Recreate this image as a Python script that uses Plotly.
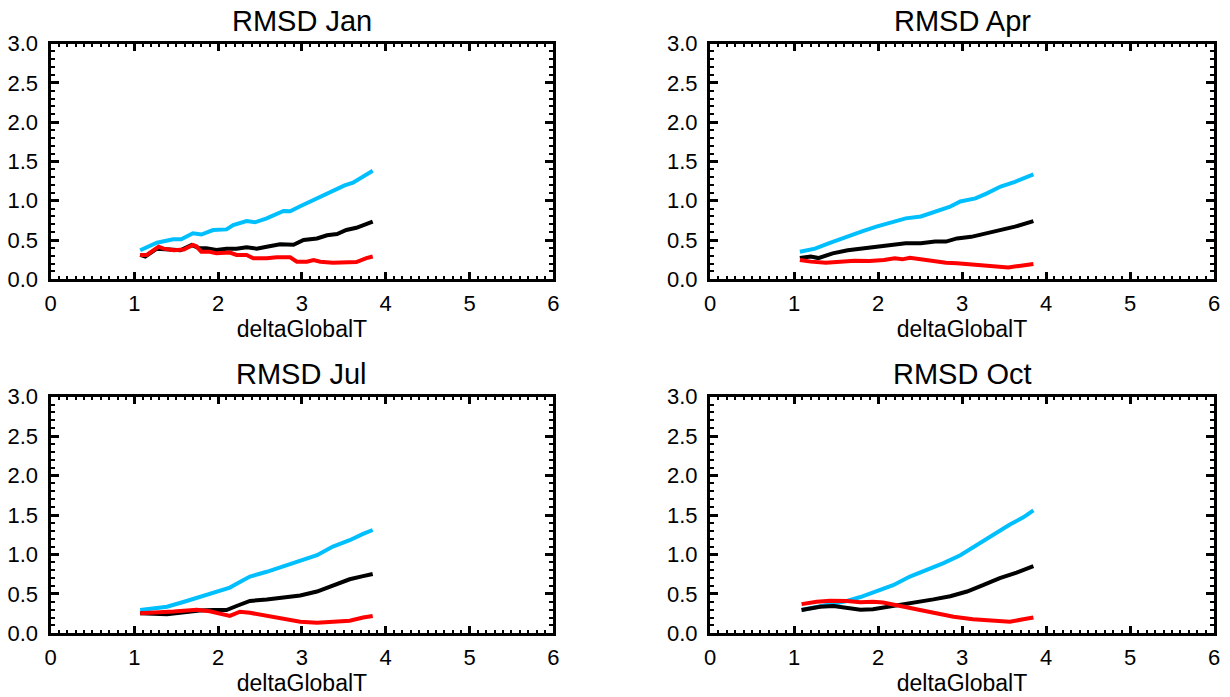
import plotly.graph_objects as go

# ---------------- data ----------------
titles = ["RMSD Jan", "RMSD Apr", "RMSD Jul", "RMSD Oct"]
x_ticks = [0, 1, 2, 3, 4, 5, 6]
x_tick_labels = ["0", "1", "2", "3", "4", "5", "6"]
y_ticks = [0.0, 0.5, 1.0, 1.5, 2.0, 2.5, 3.0]
y_tick_labels = ["0.0", "0.5", "1.0", "1.5", "2.0", "2.5", "3.0"]
x_title = "deltaGlobalT"

# Jan
jan_cyan_x = [1.07, 1.27, 1.465, 1.56, 1.70, 1.80, 1.94, 2.10, 2.18, 2.34, 2.44, 2.58, 2.78, 2.86, 2.98, 3.10, 3.22, 3.37, 3.51, 3.61, 3.73, 3.845]
jan_cyan_y = [0.37, 0.466, 0.51, 0.51, 0.585, 0.57, 0.627, 0.635, 0.69, 0.74, 0.725, 0.776, 0.87, 0.865, 0.93, 0.99, 1.04, 1.115, 1.195, 1.23, 1.305, 1.38]
jan_black_x = [1.07, 1.13, 1.27, 1.39, 1.55, 1.685, 1.78, 1.86, 1.98, 2.10, 2.22, 2.34, 2.46, 2.58, 2.74, 2.90, 3.02, 3.18, 3.30, 3.42, 3.53, 3.65, 3.75, 3.845]
jan_black_y = [0.31, 0.29, 0.39, 0.38, 0.37, 0.436, 0.395, 0.395, 0.373, 0.39, 0.39, 0.407, 0.39, 0.415, 0.445, 0.44, 0.50, 0.52, 0.56, 0.575, 0.627, 0.655, 0.69, 0.733]
jan_red_x = [1.07, 1.15, 1.29, 1.35, 1.47, 1.59, 1.70, 1.74, 1.80, 1.90, 1.98, 2.14, 2.22, 2.34, 2.42, 2.58, 2.70, 2.86, 2.94, 3.06, 3.14, 3.22, 3.37, 3.53, 3.65, 3.77, 3.845]
jan_red_y = [0.31, 0.31, 0.415, 0.39, 0.37, 0.378, 0.436, 0.42, 0.35, 0.35, 0.33, 0.34, 0.31, 0.31, 0.267, 0.267, 0.28, 0.28, 0.224, 0.224, 0.245, 0.224, 0.21, 0.22, 0.22, 0.27, 0.29]

# Apr
apr_cyan_x = [1.07, 1.25, 1.42, 1.59, 1.81, 1.98, 2.16, 2.33, 2.51, 2.68, 2.85, 2.98, 3.16, 3.29, 3.46, 3.63, 3.72, 3.85]
apr_cyan_y = [0.35, 0.39, 0.46, 0.53, 0.61, 0.67, 0.73, 0.775, 0.80, 0.86, 0.92, 0.99, 1.03, 1.09, 1.18, 1.24, 1.28, 1.335]
apr_black_x = [1.07, 1.20, 1.29, 1.46, 1.64, 1.81, 1.98, 2.16, 2.33, 2.51, 2.68, 2.81, 2.94, 3.11, 3.29, 3.46, 3.63, 3.85]
apr_black_y = [0.27, 0.29, 0.27, 0.33, 0.37, 0.39, 0.415, 0.44, 0.46, 0.46, 0.48, 0.48, 0.52, 0.54, 0.585, 0.63, 0.67, 0.74]
apr_red_x = [1.07, 1.20, 1.38, 1.55, 1.72, 1.90, 2.07, 2.20, 2.29, 2.38, 2.51, 2.64, 2.81, 2.94, 3.11, 3.29, 3.42, 3.55, 3.68, 3.85]
apr_red_y = [0.245, 0.225, 0.21, 0.225, 0.237, 0.233, 0.245, 0.267, 0.254, 0.275, 0.254, 0.225, 0.21, 0.203, 0.19, 0.18, 0.16, 0.15, 0.17, 0.195]

# Jul
jul_cyan_x = [1.07, 1.39, 1.625, 1.78, 1.98, 2.14, 2.26, 2.38, 2.58, 2.78, 2.98, 3.18, 3.37, 3.57, 3.73, 3.845]
jul_cyan_y = [0.295, 0.337, 0.41, 0.46, 0.53, 0.58, 0.65, 0.72, 0.78, 0.85, 0.92, 0.99, 1.10, 1.18, 1.26, 1.31]
jul_black_x = [1.07, 1.39, 1.625, 1.78, 1.94, 2.10, 2.22, 2.38, 2.58, 2.78, 2.98, 3.18, 3.37, 3.57, 3.73, 3.845]
jul_black_y = [0.254, 0.24, 0.27, 0.29, 0.295, 0.295, 0.346, 0.41, 0.43, 0.46, 0.48, 0.53, 0.61, 0.685, 0.725, 0.752]
jul_red_x = [1.07, 1.27, 1.47, 1.745, 1.90, 2.14, 2.26, 2.38, 2.54, 2.74, 2.98, 3.18, 3.37, 3.57, 3.73, 3.845]
jul_red_y = [0.254, 0.26, 0.275, 0.30, 0.28, 0.22, 0.274, 0.26, 0.23, 0.19, 0.147, 0.135, 0.147, 0.16, 0.20, 0.22]

# Oct
oct_cyan_x = [1.09, 1.39, 1.63, 1.79, 2.02, 2.18, 2.38, 2.58, 2.78, 2.98, 3.17, 3.37, 3.57, 3.73, 3.85]
oct_cyan_y = [0.295, 0.36, 0.41, 0.46, 0.55, 0.61, 0.72, 0.80, 0.89, 0.99, 1.12, 1.25, 1.38, 1.47, 1.56]
oct_black_x = [1.09, 1.31, 1.47, 1.63, 1.79, 1.94, 2.10, 2.26, 2.46, 2.66, 2.86, 3.06, 3.25, 3.45, 3.65, 3.85]
oct_black_y = [0.295, 0.337, 0.346, 0.317, 0.30, 0.305, 0.33, 0.36, 0.39, 0.43, 0.47, 0.53, 0.61, 0.70, 0.77, 0.853]
oct_red_x = [1.09, 1.27, 1.43, 1.63, 1.79, 1.94, 2.06, 2.18, 2.34, 2.50, 2.70, 2.90, 3.13, 3.37, 3.57, 3.73, 3.85]
oct_red_y = [0.37, 0.40, 0.413, 0.41, 0.395, 0.40, 0.39, 0.36, 0.33, 0.295, 0.253, 0.21, 0.177, 0.156, 0.147, 0.177, 0.20]

# ---------------- figure ----------------
W, H = 1230, 697
CYAN, BLACK, RED = "#00BFFF", "#000000", "#FF0000"
FONT = "Liberation Sans, Arial, Helvetica, sans-serif"

panels = [
    (titles[0], [(jan_cyan_x, jan_cyan_y, CYAN), (jan_black_x, jan_black_y, BLACK), (jan_red_x, jan_red_y, RED)]),
    (titles[1], [(apr_cyan_x, apr_cyan_y, CYAN), (apr_black_x, apr_black_y, BLACK), (apr_red_x, apr_red_y, RED)]),
    (titles[2], [(jul_cyan_x, jul_cyan_y, CYAN), (jul_black_x, jul_black_y, BLACK), (jul_red_x, jul_red_y, RED)]),
    (titles[3], [(oct_cyan_x, oct_cyan_y, CYAN), (oct_black_x, oct_black_y, BLACK), (oct_red_x, oct_red_y, RED)]),
]
names = ["cyan", "black", "red"]

x_domains = [[50.5 / W, 553.3 / W], [710 / W, 1214 / W]]
y_domains = [[(H - 279.3) / H, (H - 43.5) / H], [(H - 633.3) / H, (H - 396.7) / H]]

fig = go.Figure()
annotations = []
layout = {}
for i, (title, series) in enumerate(panels):
    row, col = divmod(i, 2)
    xa = "x" if i == 0 else f"x{i+1}"
    ya = "y" if i == 0 else f"y{i+1}"
    for (xs, ys, c), nm in zip(series, names):
        fig.add_trace(go.Scatter(x=xs, y=ys, mode="lines", line=dict(color=c, width=4),
                                 xaxis=xa, yaxis=ya, name=nm, showlegend=False))
    xkey = "xaxis" if i == 0 else f"xaxis{i+1}"
    ykey = "yaxis" if i == 0 else f"yaxis{i+1}"
    common = dict(showgrid=False, zeroline=False, showline=True, linecolor="black", linewidth=3,
                  mirror="allticks", ticks="inside", tickcolor="black", tickwidth=2.5,
                  automargin=False,
                  tickfont=dict(family=FONT, size=22, color="black"))
    layout[xkey] = dict(common, domain=x_domains[col], anchor=ya, range=[0, 6],
                        tickmode="array", tickvals=x_ticks, ticktext=x_tick_labels, ticklen=7,
                        minor=dict(dtick=0.1, ticks="inside", ticklen=3, tickwidth=2, tickcolor="black"),
                        title=dict(text=x_title, font=dict(family=FONT, size=23, color="black"), standoff=0),
                        ticklabelstandoff=2)
    layout[ykey] = dict(common, domain=y_domains[row], anchor=xa, range=[0, 3],
                        tickmode="array", tickvals=y_ticks, ticktext=y_tick_labels, ticklen=8,
                        minor=dict(dtick=0.1, ticks="inside", ticklen=4, tickwidth=2, tickcolor="black"),
                        ticklabelstandoff=5)
    xc = (x_domains[col][0] + x_domains[col][1]) / 2
    ty = (H - 21) / H if row == 0 else (H - 374) / H
    annotations.append(dict(text=title, x=xc, y=ty, xref="paper", yref="paper", showarrow=False,
                            xanchor="center", yanchor="middle",
                            font=dict(family=FONT, size=29, color="black")))

fig.update_layout(width=W, height=H, margin=dict(l=0, r=0, t=0, b=0),
                  paper_bgcolor="white", plot_bgcolor="white",
                  annotations=annotations, showlegend=False, **layout)
fig.write_html("out.html")
